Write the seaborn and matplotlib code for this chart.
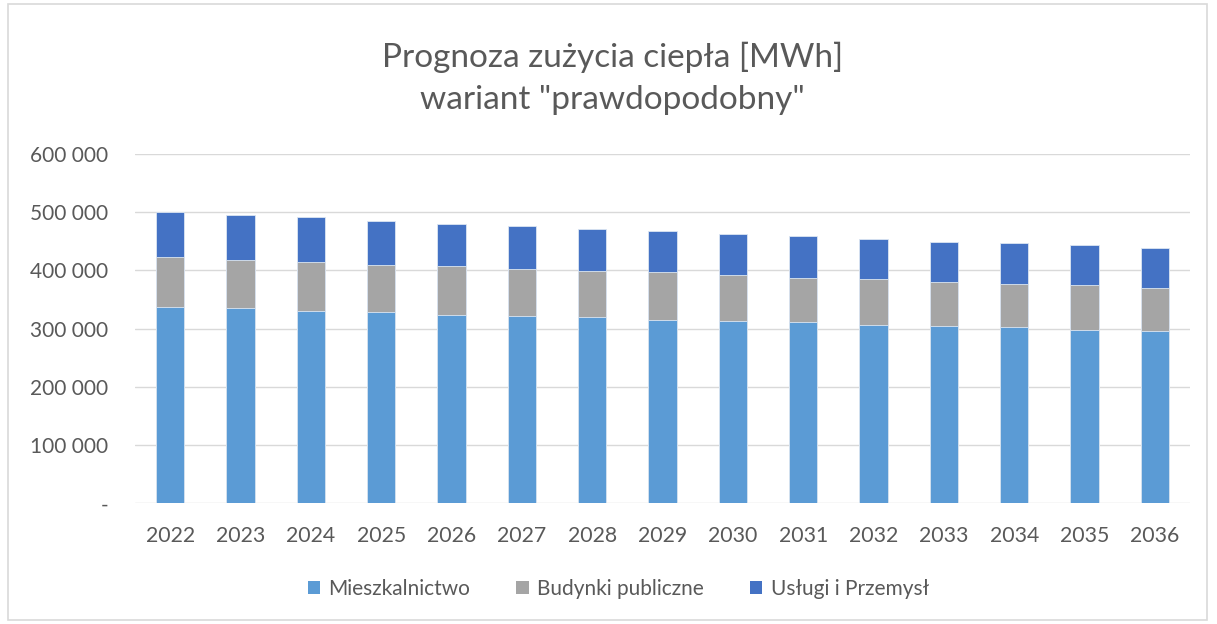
import matplotlib
matplotlib.use("Agg")
import matplotlib.pyplot as plt
import matplotlib.ticker as mticker
from matplotlib.patches import Patch, Rectangle
import numpy as np
import pandas as pd
import seaborn as sns

years = [str(y) for y in range(2022, 2037)]
mieszkalnictwo = [337000, 335500, 331000, 328700, 324000, 321800, 319500, 315400,
                  313200, 311000, 306300, 304000, 302400, 297700, 296000]
budynki_publiczne = [86000, 83000, 83500, 81300, 83700, 81200, 79500, 81500,
                     79000, 76600, 79100, 76800, 74900, 76800, 74400]
uslugi_przemysl = [77500, 77300, 76800, 75000, 72700, 73000, 72800, 70400,
                   71000, 71100, 68600, 68700, 70400, 68700, 68200]
series_names = ["Mieszkalnictwo", "Budynki publiczne", "Usługi i Przemysł"]
colors = ["#5B9BD5", "#A5A5A5", "#4472C4"]
title_lines = ["Prognoza zużycia ciepła [MWh]", 'wariant "prawdopodobny"']
yticks = [0, 100000, 200000, 300000, 400000, 500000, 600000]

sns.set_theme(style="white")
plt.rcParams["font.family"] = ["Lato", "DejaVu Sans"]
text_color = "#595959"

df = pd.DataFrame({
    "year": years,
    "m": mieszkalnictwo,
    "b": budynki_publiczne,
    "u": uslugi_przemysl,
})
df["c1"] = df["m"]
df["c2"] = df["m"] + df["b"]
df["c3"] = df["c2"] + df["u"]

fig = plt.figure(figsize=(12.17, 6.24), dpi=100)
ax = fig.add_axes([135/1217, (624-503.3)/624, (1190-135)/1217, (503.3-154)/624])

for col, c in zip(["c3", "c2", "c1"], [colors[2], colors[1], colors[0]]):
    sns.barplot(data=df, x="year", y=col, order=years, color=c, width=0.4,
                saturation=1, edgecolor="#DCE6F2", linewidth=0.6, ax=ax, zorder=3)

ax.set_ylim(0, 600000)
ax.set_xlim(-0.5, len(years) - 0.5)
ax.set_yticks(yticks)
ax.yaxis.set_major_formatter(mticker.FuncFormatter(
    lambda v, p: "-" if v == 0 else f"{int(v):,}".replace(",", " ")))
ax.grid(axis="y", color="#D9D9D9", linewidth=1.0, zorder=0)
ax.grid(axis="x", visible=False)
ax.set_axisbelow(True)
for s in ax.spines.values():
    s.set_visible(False)
ax.set_xlabel("")
ax.set_ylabel("")
ax.tick_params(axis="y", length=0, pad=19, labelsize=15, labelcolor=text_color)
ax.tick_params(axis="x", length=0, pad=16, labelsize=15.3, labelcolor=text_color)

fig.text(0.503, 1 - 57/624, title_lines[0], ha="center", va="center",
         fontsize=24, color=text_color)
fig.text(0.503, 1 - 100/624, title_lines[1], ha="center", va="center",
         fontsize=24, color=text_color)

handles = [Patch(facecolor=c, edgecolor="none") for c in colors]
fig.legend(handles, series_names, loc="center", bbox_to_anchor=(0.508, 1 - 589/624),
           ncol=3, frameon=False, fontsize=15, labelcolor=text_color,
           handlelength=0.6, handleheight=0.6, handletextpad=0.4, columnspacing=2.2)

fig.patches.append(Rectangle((8/1217, 4/624), (1207-8)/1217, (620-4)/624,
                             transform=fig.transFigure, fill=False,
                             edgecolor="#D9D9D9", linewidth=1.2))

fig.savefig("out.png", dpi=100)
